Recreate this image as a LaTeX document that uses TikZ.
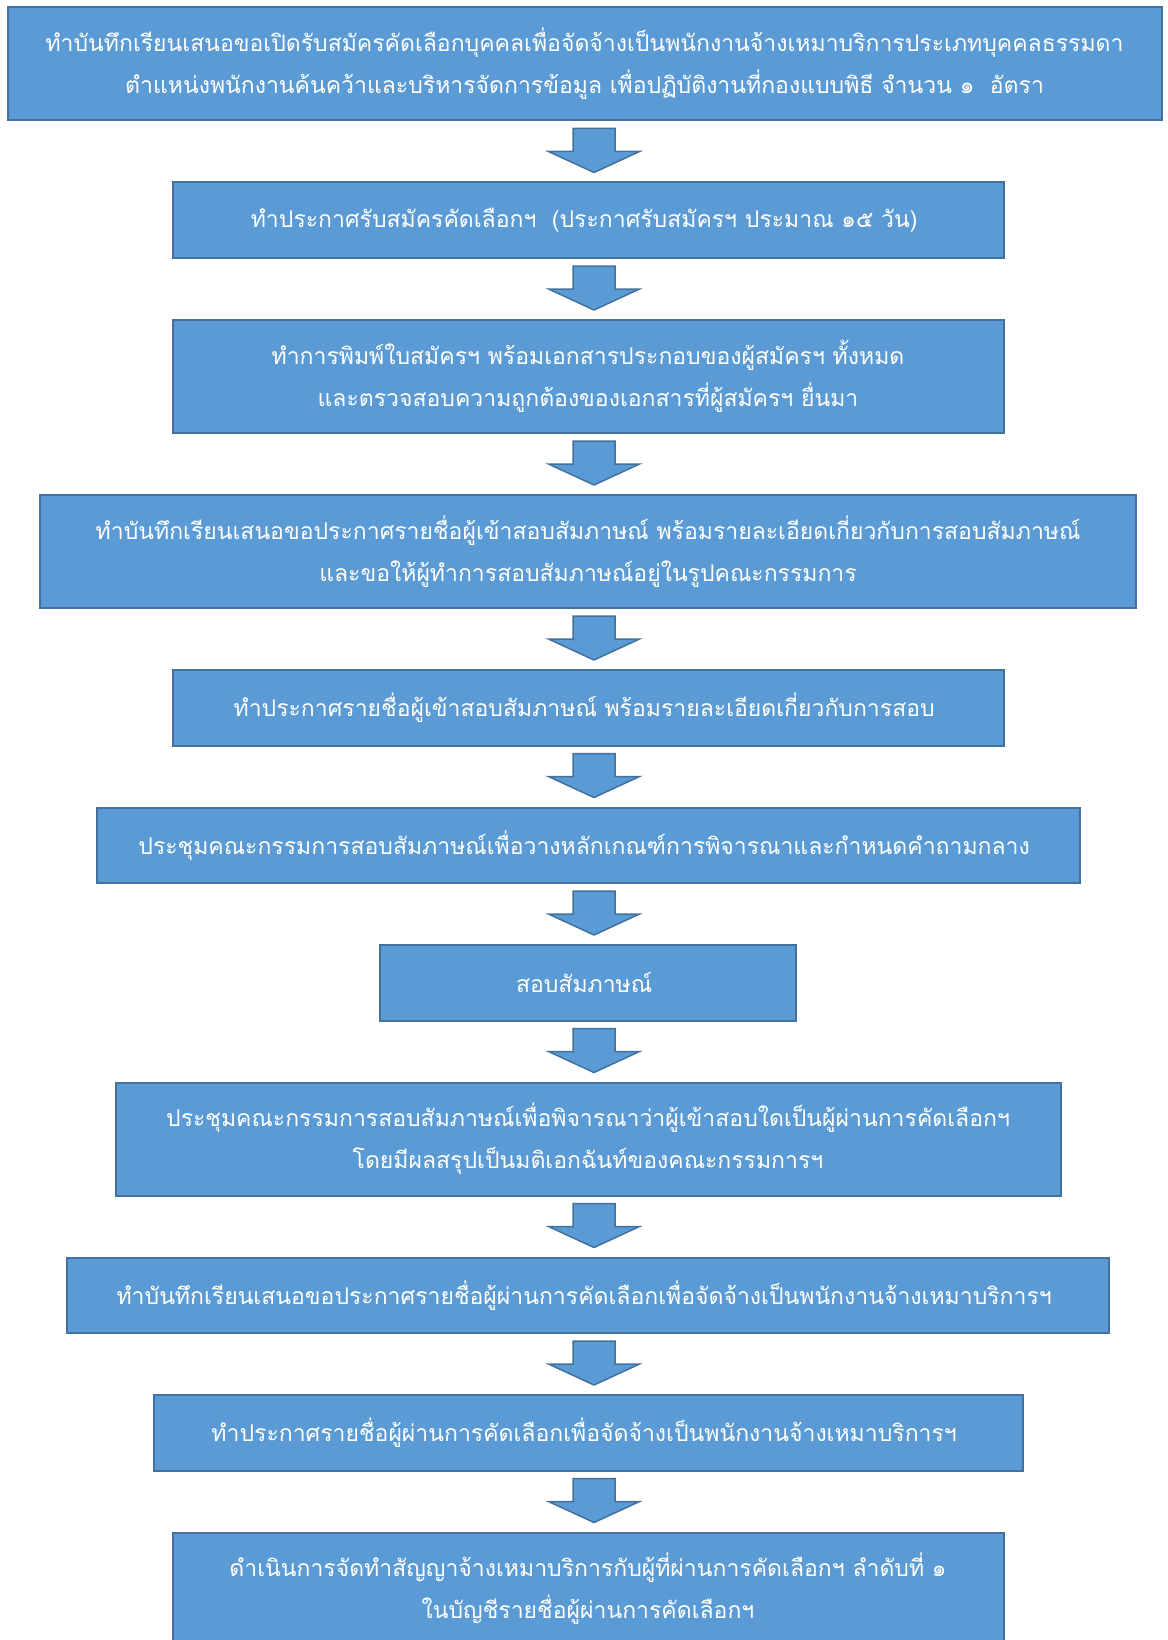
\documentclass[tikz,border=0pt]{standalone}
\usepackage{fontspec}
\newfontfamily\thaifont[Script=Thai]{Loma}
\usepackage{tikz}
\usetikzlibrary{positioning,calc}
\definecolor{boxblue}{HTML}{5B9BD5}
\definecolor{edgeblue}{HTML}{41719C}
\tikzstyle{stage} = [
    rectangle, draw=edgeblue, line width=2pt, fill=boxblue, text=white,
    align=center, inner sep=0pt, font=\thaifont\fontsize{23pt}{42pt}\selectfont]
\tikzstyle{tall} = [minimum height=113pt]
\tikzstyle{flat} = [minimum height=75.5pt]
\tikzstyle{blockarrow} = [draw=edgeblue, line width=1.5pt, fill=boxblue, line join=miter]
\newcommand{\stagearrow}[2]{%
  \draw[blockarrow] let \p1=(#1.south), \p2=(#2.north) in
    (\x2-15pt,\y1-7pt) -- (\x2+27pt,\y1-7pt) -- (\x2+27pt,\y1-30pt) -- (\x2+51.5pt,\y1-30pt)
    -- (\x2+6pt,\y2+9pt) -- (\x2-39.5pt,\y1-30pt) -- (\x2-15pt,\y1-30pt) -- cycle;}

\begin{document}
\begin{tikzpicture}[x=1pt, y=1pt, node distance=60pt]
\useasboundingbox (0,0) rectangle (1167,-1640);

\node (memo) [stage, tall, minimum width=1154pt] at (584.5,-64) {
    ทำบันทึกเรียนเสนอขอเปิดรับสมัครคัดเลือกบุคคลเพื่อจัดจ้างเป็นพนักงานจ้างเหมาบริการประเภทบุคคลธรรมดา \\
    ตำแหน่งพนักงานค้นคว้าและบริหารจัดการข้อมูล เพื่อปฏิบัติงานที่กองแบบพิธี จำนวน ๑\ \ อัตรา
};

\node (announce) [stage, flat, minimum width=831pt, below=of memo, xshift=3.5pt] {
    ทำประกาศรับสมัครคัดเลือกฯ\ \ (ประกาศรับสมัครฯ ประมาณ ๑๕ วัน)
};

\node (print) [stage, tall, minimum width=831pt, below=of announce] {
    ทำการพิมพ์ใบสมัครฯ พร้อมเอกสารประกอบของผู้สมัครฯ ทั้งหมด \\
    และตรวจสอบความถูกต้องของเอกสารที่ผู้สมัครฯ ยื่นมา
};

\node (listmemo) [stage, tall, minimum width=1096pt, below=of print] {
    ทำบันทึกเรียนเสนอขอประกาศรายชื่อผู้เข้าสอบสัมภาษณ์ พร้อมรายละเอียดเกี่ยวกับการสอบสัมภาษณ์ \\
    และขอให้ผู้ทำการสอบสัมภาษณ์อยู่ในรูปคณะกรรมการ
};

\node (listpost) [stage, flat, minimum width=831pt, below=of listmemo] {
    ทำประกาศรายชื่อผู้เข้าสอบสัมภาษณ์ พร้อมรายละเอียดเกี่ยวกับการสอบ
};

\node (criteria) [stage, flat, minimum width=983pt, below=of listpost] {
    ประชุมคณะกรรมการสอบสัมภาษณ์เพื่อวางหลักเกณฑ์การพิจารณาและกำหนดคำถามกลาง
};

\node (interview) [stage, flat, minimum width=416pt, below=of criteria] {
    สอบสัมภาษณ์
};

\node (decide) [stage, tall, minimum width=945pt, below=of interview] {
    ประชุมคณะกรรมการสอบสัมภาษณ์เพื่อพิจารณาว่าผู้เข้าสอบใดเป็นผู้ผ่านการคัดเลือกฯ \\
    โดยมีผลสรุปเป็นมติเอกฉันท์ของคณะกรรมการฯ
};

\node (resultmemo) [stage, flat, minimum width=1042.5pt, below=of decide] {
    ทำบันทึกเรียนเสนอขอประกาศรายชื่อผู้ผ่านการคัดเลือกเพื่อจัดจ้างเป็นพนักงานจ้างเหมาบริการฯ
};

\node (resultpost) [stage, flat, minimum width=869pt, below=of resultmemo] {
    ทำประกาศรายชื่อผู้ผ่านการคัดเลือกเพื่อจัดจ้างเป็นพนักงานจ้างเหมาบริการฯ
};

\node (contract) [stage, tall, minimum width=831pt, below=of resultpost] {
    ดำเนินการจัดทำสัญญาจ้างเหมาบริการกับผู้ที่ผ่านการคัดเลือกฯ ลำดับที่ ๑ \\
    ในบัญชีรายชื่อผู้ผ่านการคัดเลือกฯ
};

\stagearrow{memo}{announce}
\stagearrow{announce}{print}
\stagearrow{print}{listmemo}
\stagearrow{listmemo}{listpost}
\stagearrow{listpost}{criteria}
\stagearrow{criteria}{interview}
\stagearrow{interview}{decide}
\stagearrow{decide}{resultmemo}
\stagearrow{resultmemo}{resultpost}
\stagearrow{resultpost}{contract}
\end{tikzpicture}
\end{document}
